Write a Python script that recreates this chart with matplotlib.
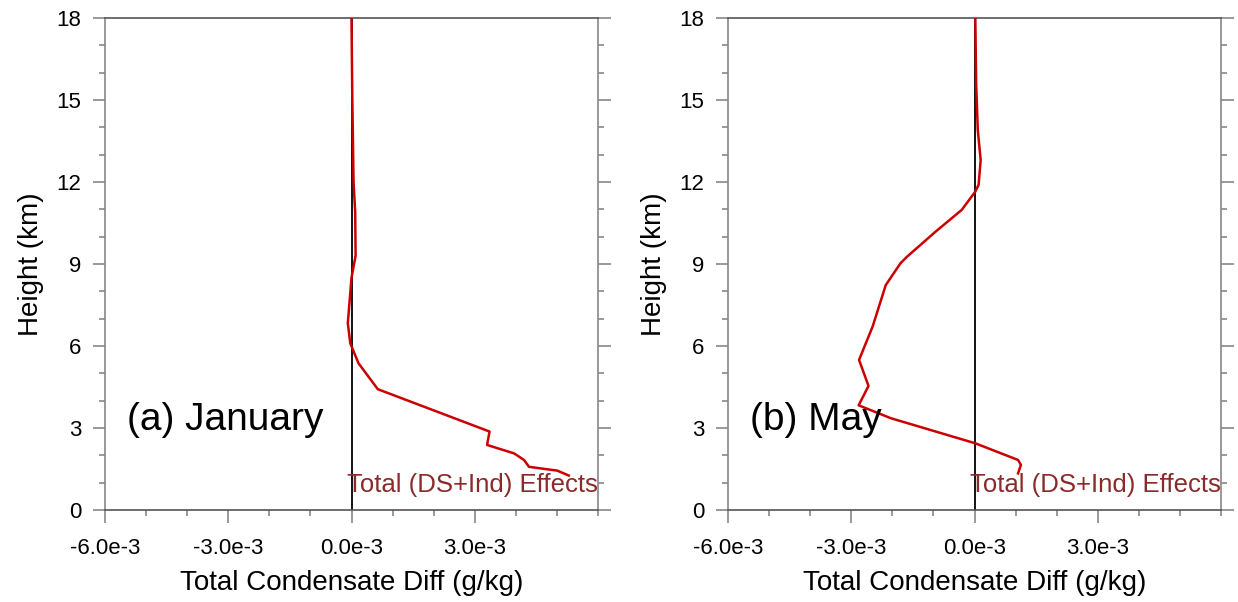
import numpy as np
import matplotlib.pyplot as plt
from matplotlib.ticker import MultipleLocator

plt.rcParams['font.family'] = ['Liberation Sans', 'DejaVu Sans']

# heights (km) and condensate difference (units of 1e-3 g/kg)
jan_height = [18.0, 15.0, 12.0, 10.9, 9.3, 8.5, 7.2, 6.84, 6.1, 5.37, 4.42,
              2.87, 2.38, 2.07, 1.83, 1.58, 1.44, 1.26]
jan_diff = [0.0, 0.02, 0.05, 0.09, 0.10, 0.0, -0.07, -0.09, -0.03, 0.17, 0.64,
            3.36, 3.30, 3.96, 4.20, 4.32, 5.01, 5.29]

may_height = [18.0, 15.6, 13.9, 12.8, 11.9, 11.65, 10.98, 10.18, 9.27, 9.03,
              8.23, 6.71, 5.49, 4.54, 3.83, 3.36, 2.44, 1.83, 1.65, 1.34]
may_diff = [0.02, 0.04, 0.08, 0.15, 0.10, 0.02, -0.31, -0.95, -1.64, -1.80,
            -2.16, -2.48, -2.81, -2.58, -2.82, -2.04, 0.02, 1.06, 1.13, 1.06]

panels = [('(a) January', jan_diff, jan_height),
          ('(b) May', may_diff, may_height)]
xticks = [-6e-3, -3e-3, 0.0, 3e-3]
xticklabels = ['-6.0e-3', '-3.0e-3', '0.0e-3', '3.0e-3']

fig = plt.figure(figsize=(12.38, 6.02), dpi=100)
lefts = [105 / 1238, 728 / 1238]

for left, (title, diff, height) in zip(lefts, panels):
    ax = fig.add_axes([left, 92 / 602, 493 / 1238, 492 / 602])
    x = np.array(diff) * 1e-3
    ax.axvline(0, color='black', lw=1.3, zorder=2)
    ax.plot(x, height, color='#cc0000', lw=1.8, zorder=3)

    ax.set_xlim(-6e-3, 6e-3)
    ax.set_ylim(0, 18)
    ax.set_xticks(xticks)
    ax.set_xticklabels(xticklabels)
    ax.xaxis.set_minor_locator(MultipleLocator(1e-3))
    ax.set_yticks([0, 3, 6, 9, 12, 15, 18])
    ax.yaxis.set_minor_locator(MultipleLocator(1))

    ax.tick_params(which='both', direction='out', colors='#888888',
                   labelcolor='black', labelsize=16, width=1.2)
    ax.tick_params(which='major', length=9)
    ax.tick_params(which='minor', length=4.5)
    ax.tick_params(axis='x', pad=11)
    ax.tick_params(axis='y', pad=8, right=True, which='both')

    for side in ['left', 'right']:
        ax.spines[side].set_color('#888888')
        ax.spines[side].set_linewidth(1.2)
    for side in ['top', 'bottom']:
        ax.spines[side].set_color('#555555')
        ax.spines[side].set_linewidth(1.2)

    ax.set_xlabel('Total Condensate Diff (g/kg)', fontsize=20, labelpad=8)
    ax.set_ylabel('Height (km)', fontsize=20, labelpad=9)

    ax.text(0.045, 0.183, title, transform=ax.transAxes, fontsize=28,
            va='center', ha='left')
    ax.text(1.0, 0.05, 'Total (DS+Ind) Effects', transform=ax.transAxes,
            fontsize=18.5, color='#8b2a2a', ha='right', va='center')

plt.savefig('out.png', dpi=100)
